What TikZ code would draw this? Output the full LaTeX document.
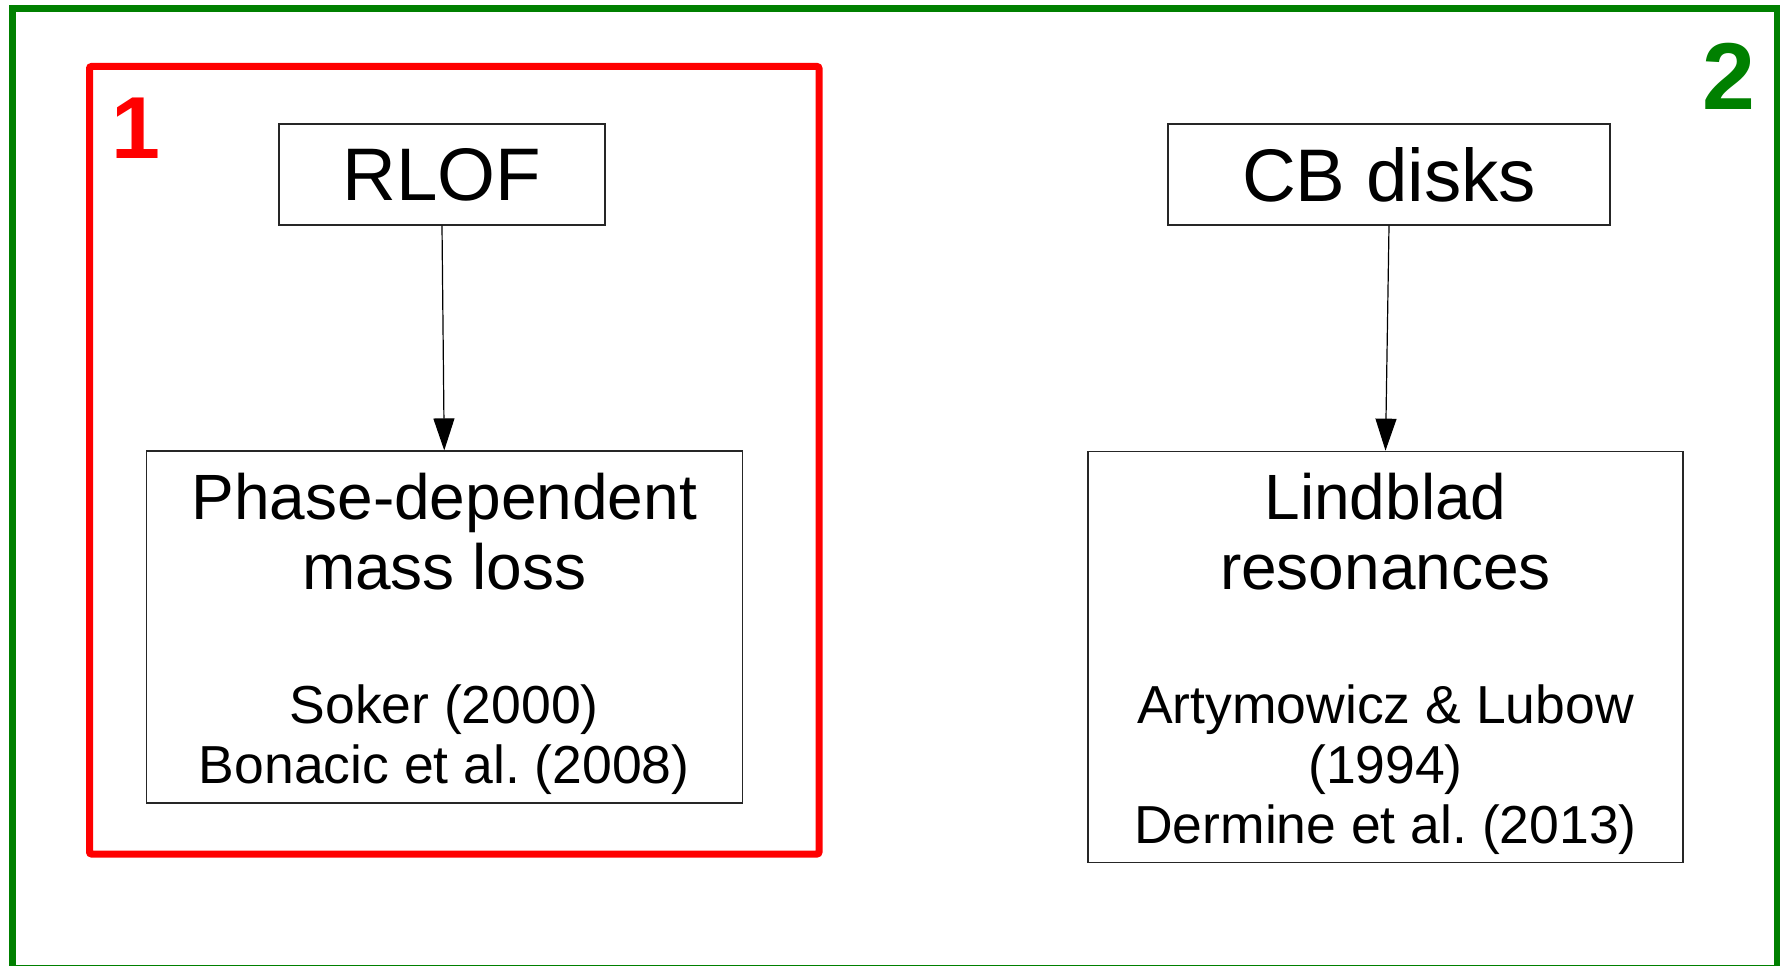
\documentclass[tikz,border=0pt]{standalone}
\usepackage{fontspec}
\setmainfont{Liberation Sans}
\usetikzlibrary{arrows.meta,positioning}

\definecolor{frameGreen}{RGB}{0,128,0}
\definecolor{frameRed}{RGB}{255,0,0}

\newcommand{\headfont}{\fontsize{74.5}{80}\selectfont}
\newcommand{\titlefont}{\fontsize{64}{70}\selectfont}
\newcommand{\reffont}{\fontsize{53.5}{60}\selectfont}
\frenchspacing

\tikzset{
  mechbox/.style={draw=black!85, line width=1.2pt, inner sep=0pt},
  txt/.style={anchor=base, align=center, inner sep=0pt},
  flow/.style={line width=1.2pt, -{Triangle[width=21pt,length=32pt]}},
  groupnum/.style={anchor=base, font=\fontsize{88}{90}\selectfont\bfseries, inner sep=0pt}
}

\begin{document}
\begin{tikzpicture}[x=1pt,y=-1pt]
  \useasboundingbox (0,0) rectangle (1780,966);
  % outer (green) and inner (red) groups
  \draw[frameGreen, line width=7pt] (12.5,9) rectangle (1777,968);
  \draw[frameRed, line width=7pt, rounded corners=2pt] (89.5,66.5) rectangle (819,854);
  \node[groupnum, text=frameRed] (one) at (136,158) {1};
  \node[groupnum, text=frameGreen, font=\fontsize{95}{98}\selectfont\bfseries] (two) at (1729,110) {2};

  % boxes
  \node[mechbox, minimum width=326pt, minimum height=101pt, font=\headfont] (rlof) at (442,174.5) {RLOF};
  \node[mechbox, minimum width=442pt, minimum height=101pt, font=\headfont] (cbd) at (1389,174.5) {CB disks};
  \node[mechbox, minimum width=596pt, minimum height=352pt] (phase) at (444.25,627) {};
  \node[mechbox, minimum width=595pt, minimum height=411pt] (lind) at (1385.5,656.75) {};

  % box texts (anchored at the last baseline)
  \node[txt, font=\titlefont] (phaseT) at (444.25,589) {Phase-dependent\\mass loss};
  \node[txt, font=\reffont] (phaseR) at (444.25,783) {Soker (2000)\\Bonacic et al. (2008)};
  \node[txt, font=\titlefont] (lindT) at (1385.5,589) {Lindblad\\resonances};
  \node[txt, font=\reffont] (lindR) at (1385.5,843) {Artymowicz \& Lubow\\(1994)\\Dermine et al. (2013)};

  \draw[flow] (rlof.south) -- (phase.north);
  \draw[flow] (cbd.south) -- (lind.north);
\end{tikzpicture}
\end{document}
